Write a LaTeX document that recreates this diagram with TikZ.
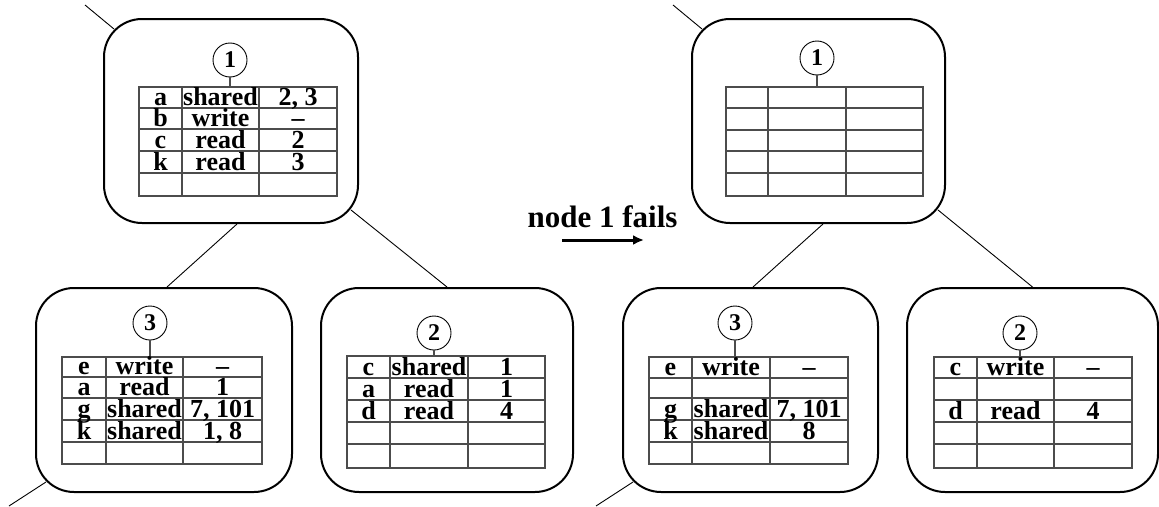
\documentclass[tikz,border=0pt]{standalone}
\usepackage{fontspec}
\setmainfont{Liberation Serif}
\usetikzlibrary{arrows.meta}

% grid of one table: x0 x1 x2 x3, top, bottom, inner row lines
\newcommand\tablegrid[7]{%
  \draw[tabline] (#1,#5) rectangle (#4,#6);
  \foreach \yy in {#7} \draw[tabline] (#1,\yy) -- (#4,\yy);
  \draw[tabline] (#2,#5) -- (#2,#6) (#3,#5) -- (#3,#6);}
% one row of entries: name, baseline, three column centres, three texts
\newcommand\rowtext[8]{%
  \node[celltxt] (#1a) at (#3,#2) {#6};
  \node[celltxt] (#1b) at (#4,#2) {#7};
  \node[celltxt] (#1c) at (#5,#2) {#8};}

\begin{document}
\begin{tikzpicture}[x=1pt,y=-1pt,
  nodebox/.style={draw, line width=2pt, rounded corners=38pt, fill=none, inner sep=0pt},
  tabline/.style={draw=black!70, line width=1.2pt},
  celltxt/.style={anchor=base, inner sep=0pt, font=\fontsize{26pt}{26pt}\selectfont\bfseries},
  numc/.style={draw, circle, line width=0.9pt, minimum size=34pt, inner sep=0pt,
               font=\fontsize{24pt}{24pt}\selectfont\bfseries},
  stem/.style={draw=black!70, line width=1.2pt},
  link/.style={draw, line width=0.9pt},
  failarrow/.style={line width=3pt, -{Latex[length=11pt,width=10pt]}},
  titletxt/.style={anchor=base, inner sep=0pt, font=\fontsize{31pt}{31pt}\selectfont\bfseries}]
\useasboundingbox (0,0) rectangle (1159,506);

% ---------- tree before the failure ----------
\node[nodebox, minimum width=254pt, minimum height=204pt] (L1) at (231,121) {};
\node[nodebox, minimum width=256pt, minimum height=204pt] (L3) at (164,390) {};
\node[nodebox, minimum width=252pt, minimum height=204pt] (L2) at (447,390) {};

\coordinate (L1up) at (85,5);
\coordinate (L3down) at (9,506);
\draw[link] (L1up) -- ([shift={(11,11)}]L1.north west);
\draw[link] ([shift={(6,0)}]L1.south) -- ([shift={(3,0)}]L3.north);
\draw[link] ([shift={(-8,-14)}]L1.south east) -- (L2.north);
\draw[link] ([shift={(11,-11)}]L3.south west) -- (L3down);

% table of node 1
\node[numc] (c1) at (230,60) {1};
\coordinate (t1) at (230,87);
\draw[stem] (c1) -- (t1);
\tablegrid{139}{182}{259}{337}{87}{196}{108,129,151,173}
\rowtext{la}{105}{160.5}{220.5}{298}{a}{shared}{2, 3}
\rowtext{lb}{126}{160.5}{220.5}{298}{b}{write}{--}
\rowtext{lc}{148}{160.5}{220.5}{298}{c}{read}{2}
\rowtext{lk}{170}{160.5}{220.5}{298}{k}{read}{3}

% table of node 3
\node[numc] (c3) at (150,323) {3};
\coordinate (t3) at (150,357);
\draw[stem] (c3) -- (t3);
\tablegrid{62}{106}{183}{262}{357}{464}{377,398,420,442}
\rowtext{me}{374}{84}{144.5}{222.5}{e}{write}{--}
\rowtext{ma}{395}{84}{144.5}{222.5}{a}{read}{1}
\rowtext{mg}{417}{84}{144.5}{222.5}{g}{shared}{7, 101}
\rowtext{mk}{439}{84}{144.5}{222.5}{k}{shared}{1, 8}

% table of node 2
\node[numc] (c2) at (434,333) {2};
\coordinate (t2) at (434,356);
\draw[stem] (c2) -- (t2);
\tablegrid{347}{390}{468}{545}{356}{468}{378,400,422,444}
\rowtext{nc}{375}{368.5}{429}{506.5}{c}{shared}{1}
\rowtext{na}{397}{368.5}{429}{506.5}{a}{read}{1}
\rowtext{nd}{419}{368.5}{429}{506.5}{d}{read}{4}

% ---------- failure step ----------
\node[titletxt] (fail) at (602.5,227) {node 1 fails};
\coordinate (arrS) at (562,240);
\coordinate (arrE) at (644,240);
\draw[failarrow] (arrS) -- (arrE);

% ---------- tree after the failure ----------
\node[nodebox, minimum width=253pt, minimum height=204pt] (R1) at (818.5,121) {};
\node[nodebox, minimum width=255pt, minimum height=204pt] (R3) at (750.5,390) {};
\node[nodebox, minimum width=251pt, minimum height=204pt] (R2) at (1032.5,390) {};

\coordinate (R1up) at (673,5);
\coordinate (R3down) at (596,506);
\draw[link] (R1up) -- ([shift={(11,11)}]R1.north west);
\draw[link] ([shift={(4.5,0)}]R1.south) -- ([shift={(2.5,0)}]R3.north);
\draw[link] ([shift={(-8,-14)}]R1.south east) -- (R2.north);
\draw[link] ([shift={(11,-11)}]R3.south west) -- (R3down);

% emptied table of node 1
\node[numc] (d1) at (817,58) {1};
\coordinate (u1) at (817,87);
\draw[stem] (d1) -- (u1);
\tablegrid{726}{768}{846}{923}{87}{196}{108,130,151,173}

% table of node 3 after the failure
\node[numc] (d3) at (735,323) {3};
\coordinate (u3) at (735,357);
\draw[stem] (d3) -- (u3);
\tablegrid{649}{692}{770}{848}{357}{464}{378,398,420,442}
\rowtext{pe}{375}{670.5}{731}{809}{e}{write}{--}
\rowtext{pg}{417}{670.5}{731}{809}{g}{shared}{7, 101}
\rowtext{pk}{439}{670.5}{731}{809}{k}{shared}{8}

% table of node 2 after the failure
\node[numc] (d2) at (1020,333) {2};
\coordinate (u2) at (1020,357);
\draw[stem] (d2) -- (u2);
\tablegrid{934}{977}{1054}{1132}{357}{468}{378,400,422,444}
\rowtext{qc}{375}{955.5}{1015.5}{1093}{c}{write}{--}
\rowtext{qd}{419}{955.5}{1015.5}{1093}{d}{read}{4}
\end{tikzpicture}
\end{document}
